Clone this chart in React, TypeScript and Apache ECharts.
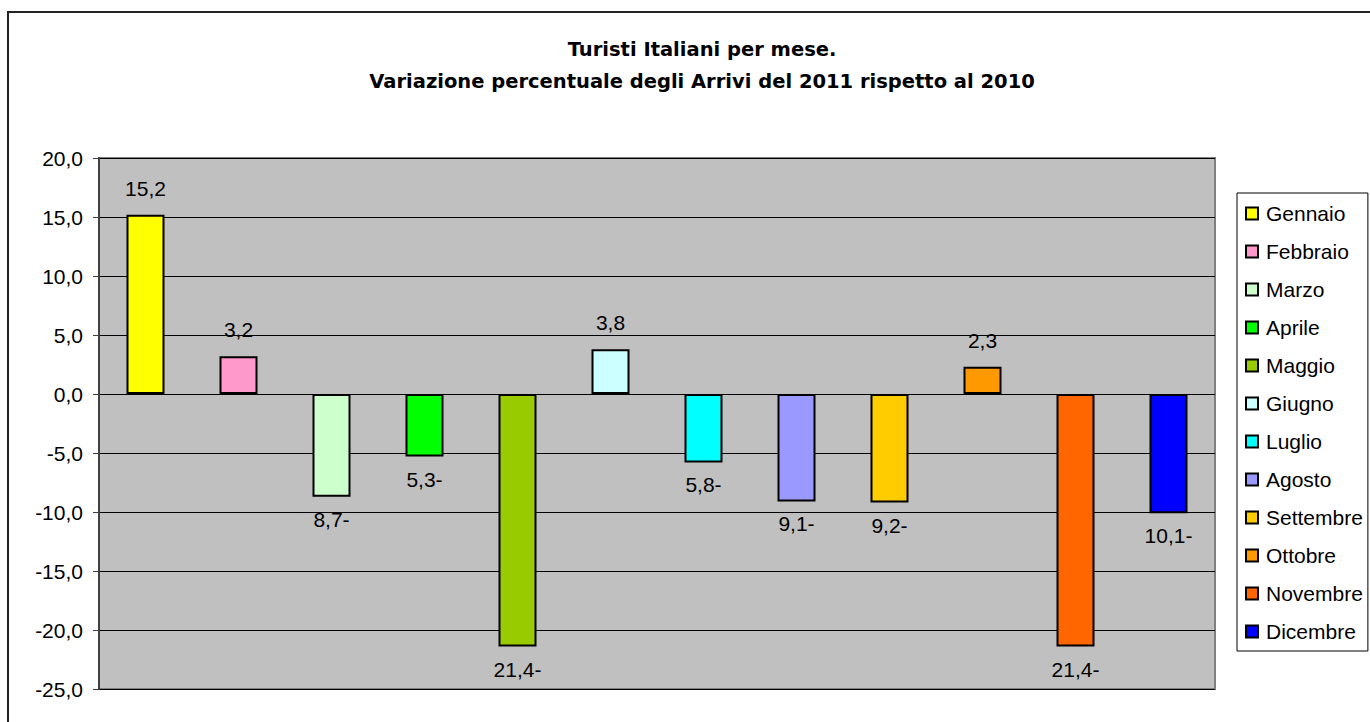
import React, { useEffect, useRef } from "react";
import * as echarts from "echarts";

const months = [
  "Gennaio", "Febbraio", "Marzo", "Aprile", "Maggio", "Giugno",
  "Luglio", "Agosto", "Settembre", "Ottobre", "Novembre", "Dicembre",
];
const values = [15.2, 3.2, -8.7, -5.3, -21.4, 3.8, -5.8, -9.1, -9.2, 2.3, -21.4, -10.1];
const colors = [
  "#FFFF00", "#FF99CC", "#CCFFCC", "#00FF00", "#99CC00", "#CCFFFF",
  "#00FFFF", "#9999FF", "#FFCC00", "#FF9900", "#FF6600", "#0000FF",
];
const titleLines = [
  "Turisti Italiani per mese.",
  "Variazione percentuale degli Arrivi del 2011 rispetto al 2010",
];
const yMin = -25;
const yMax = 20;
const yStep = 5;

const FONT = "'Liberation Sans', Arial, sans-serif";
const TITLE_FONT = "'DejaVu Sans', 'Liberation Sans', Arial, sans-serif";

const fmt = (v: number) =>
  v < 0
    ? Math.abs(v).toFixed(1).replace(".", ",") + "-"
    : v.toFixed(1).replace(".", ",");

export default function App() {
  const ref = useRef<HTMLDivElement>(null);

  useEffect(() => {
    if (!ref.current) return;
    const chart = echarts.init(ref.current, undefined, { renderer: "svg" });

    const series = months.map((m, i) => ({
      name: m,
      type: "bar" as const,
      barWidth: 38,
      barGap: "-100%",
      itemStyle: { color: colors[i], borderColor: "#000", borderWidth: 2 },
      label: {
        show: true,
        fontSize: 21,
        fontFamily: FONT,
        color: "#000",
        formatter: (p: any) => fmt(p.value),
      },
      data: months.map((_, j) =>
        j === i
          ? {
              value: values[i],
              label: {
                position: values[i] >= 0 ? "top" : "bottom",
                distance: values[i] >= 0 ? 16 : 12,
              },
            }
          : null
      ),
    }));

    chart.setOption({
      animation: false,
      backgroundColor: "#fff",
      title: {
        text: titleLines.join("\n"),
        left: 697,
        top: 28,
        textAlign: "center",
        textStyle: {
          fontSize: 19.5,
          fontWeight: "bold",
          fontFamily: TITLE_FONT,
          color: "#000",
          lineHeight: 32,
        },
      },
      legend: {
        orient: "vertical",
        left: 1237,
        top: 193,
        padding: [10, 5, 9, 8],
        itemWidth: 12,
        itemHeight: 12,
        itemGap: 17,
        icon: "rect",
        backgroundColor: "#fff",
        borderColor: "#000",
        borderWidth: 1,
        textStyle: {
          fontSize: 21,
          fontFamily: FONT,
          color: "#000",
          lineHeight: 20,
          padding: [0, 0, 0, 3],
        },
        data: months,
      },
      grid: {
        left: 99,
        top: 158,
        right: 155,
        bottom: 33,
        show: true,
        backgroundColor: "#C0C0C0",
        borderColor: "#808080",
        borderWidth: 2,
      },
      xAxis: {
        type: "category",
        data: months,
        axisLabel: { show: false },
        axisTick: { show: false },
        axisLine: { show: false },
        splitLine: { show: false },
      },
      yAxis: {
        type: "value",
        min: yMin,
        max: yMax,
        interval: yStep,
        axisLine: { show: true, lineStyle: { color: "#404040", width: 2 } },
        axisTick: { show: true, length: 6, lineStyle: { color: "#404040", width: 1 } },
        axisLabel: {
          fontSize: 21,
          fontFamily: FONT,
          color: "#000",
          margin: 16,
          formatter: (v: number) => v.toFixed(1).replace(".", ","),
        },
        splitLine: { show: true, lineStyle: { color: "#000", width: 1 } },
      },
      graphic: [
        {
          type: "rect",
          shape: { x: 8, y: 12, width: 1500, height: 900 },
          style: { fill: "none", stroke: "#222", lineWidth: 2 },
          z: 100,
          silent: true,
        },
      ],
      series,
    });

    return () => chart.dispose();
  }, []);

  return (
    <div
      ref={ref}
      style={{ position: "absolute", left: 0, top: 0, width: 1370, height: 722 }}
    />
  );
}
